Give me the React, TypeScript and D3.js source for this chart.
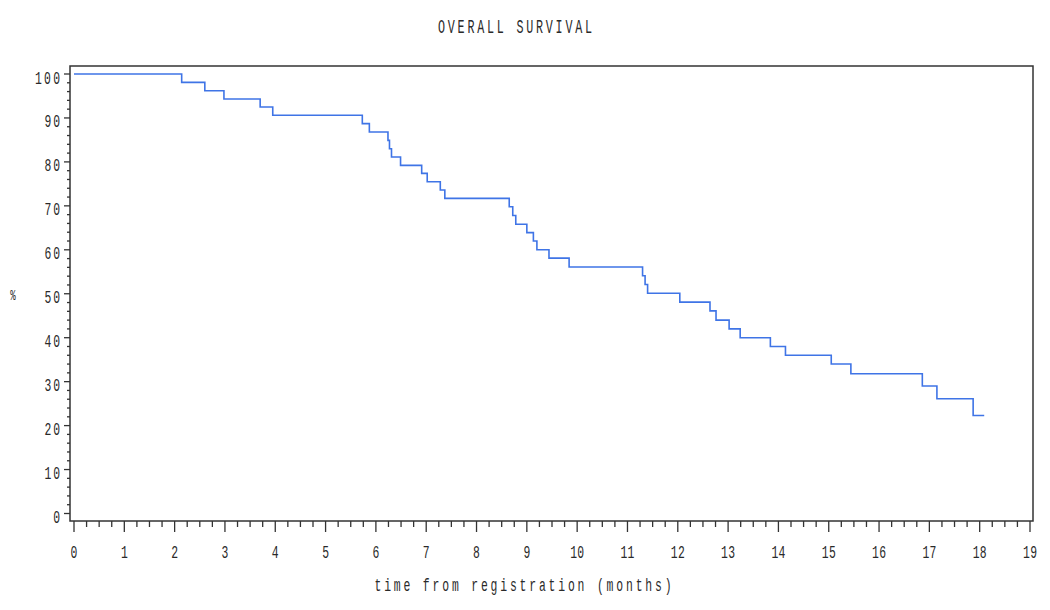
import React from "react";
import { scaleLinear, line, curveStepAfter, range } from "d3";

// Kaplan-Meier step points (months, % surviving)
const times = [0, 2.14, 2.6, 2.98, 3.7, 3.95, 5.73, 5.87, 6.24, 6.27, 6.31, 6.49, 6.91, 7.02, 7.28, 7.37, 8.65, 8.72, 8.78, 9.0, 9.13, 9.2, 9.44, 9.84, 11.3, 11.35, 11.4, 12.04, 12.64, 12.76, 13.02, 13.24, 13.84, 14.14, 15.05, 15.44, 16.86, 17.15, 17.87, 18.09];
const survival = [100, 98.1, 96.2, 94.3, 92.5, 90.6, 88.7, 86.8, 84.9, 83.0, 81.1, 79.2, 77.4, 75.5, 73.6, 71.7, 69.8, 67.8, 65.8, 63.9, 62.0, 60.0, 58.1, 56.1, 54.1, 52.1, 50.1, 48.1, 46.1, 44.0, 42.0, 40.0, 38.0, 36.0, 34.0, 31.8, 29.0, 26.1, 22.3, 22.3];

const xTicks = range(0, 20);
const yTicks = range(0, 101, 10);

const FONT = "'Liberation Mono', 'DejaVu Sans Mono', monospace";
const SX = 0.6;

// condensed SAS-like text: squeezed horizontally, spread with textLength
const Txt = ({ x, y, anchor = "middle", size = 19, len, children }: any) => (
  <text
    transform={`translate(${x},${y}) scale(${SX},1)`}
    textAnchor={anchor}
    fontFamily={FONT}
    fontSize={size}
    textLength={len ? len / SX : undefined}
    lengthAdjust="spacing"
    fill="#2a2a2a"
  >
    {children}
  </text>
);

const App = () => {
  const width = 1050;
  const height = 610;
  const frame = { left: 70, right: 1033, top: 66, bottom: 521 };

  const x = scaleLinear().domain([0, 19]).range([74, 1030]);
  const y = scaleLinear().domain([0, 100]).range([513.5, 74]);

  const pts = times.map((t, i) => [t, survival[i]] as [number, number]);
  const path = line<[number, number]>()
    .x((d) => x(d[0]))
    .y((d) => y(d[1]))
    .curve(curveStepAfter)(pts);

  const xMinor = range(0, 19.01, 0.25).filter((v) => Math.abs(v - Math.round(v)) > 0.01);
  const yMinor = range(0, 101, 2).filter((v) => v % 10 !== 0);

  return (
    <svg width={width} height={height} style={{ position: "absolute", left: 0, top: 0, background: "#fff" }}>
      <Txt x={515} y={33} size={19.5} len={154}>
        OVERALL SURVIVAL
      </Txt>

      <rect
        x={frame.left}
        y={frame.top}
        width={frame.right - frame.left}
        height={frame.bottom - frame.top}
        fill="none"
        stroke="#333"
        strokeWidth={1.5}
      />

      {/* y axis */}
      {yTicks.map((v) => (
        <g key={"y" + v}>
          <line x1={64} x2={frame.left} y1={y(v)} y2={y(v)} stroke="#333" strokeWidth={1.3} />
          <Txt x={60} y={y(v) + 9.5} anchor="end" len={String(v).length > 1 ? String(v).length * 9.5 - 3.5 : undefined}>
            {v}
          </Txt>
        </g>
      ))}
      {yMinor.map((v) => (
        <line key={"ym" + v} x1={67} x2={frame.left} y1={y(v)} y2={y(v)} stroke="#333" strokeWidth={1.3} />
      ))}
      <Txt x={13} y={300} size={15}>
        %
      </Txt>

      {/* x axis */}
      {xTicks.map((v) => (
        <g key={"x" + v}>
          <line x1={x(v)} x2={x(v)} y1={frame.bottom} y2={532} stroke="#333" strokeWidth={1.3} />
          <Txt x={x(v)} y={558} len={v >= 10 ? 14 : undefined}>
            {v}
          </Txt>
        </g>
      ))}
      {xMinor.map((v) => (
        <line key={"xm" + v} x1={x(v)} x2={x(v)} y1={frame.bottom} y2={527} stroke="#333" strokeWidth={1.3} />
      ))}
      <Txt x={523} y={591} size={19} len={297}>
        time from registration (months)
      </Txt>

      <path d={path ?? ""} fill="none" stroke="#3f74e6" strokeWidth={1.6} />
    </svg>
  );
};

export default App;
